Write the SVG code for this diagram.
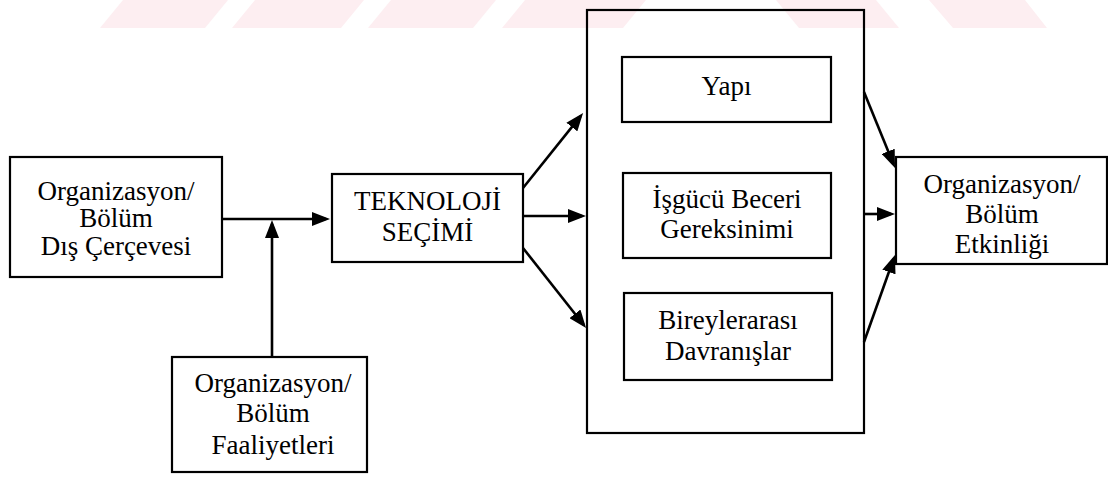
<svg xmlns="http://www.w3.org/2000/svg" width="1108" height="478" viewBox="0 0 1108 478">
  <style>
    .box { fill: #ffffff; stroke: #000000; stroke-width: 2.2; }
    .frame { fill: none; stroke: #000000; stroke-width: 2.2; }
    .lbl { font-family: "Liberation Serif", "Times New Roman", "DejaVu Serif", serif; font-size: 27px; fill: #000000; text-anchor: middle; }
    .wire { stroke: #000000; stroke-width: 2.6; fill: none; }
    .stripe { fill: #fdeef1; }
  </style>
  <defs>
    <marker id="arrow" markerUnits="userSpaceOnUse" markerWidth="18" markerHeight="14" refX="14" refY="7" orient="auto">
      <path d="M0,0 L18,7 L0,14 Z" fill="#000000"/>
    </marker>
  </defs>

  <rect width="1108" height="478" fill="#ffffff"/>

  <!-- faint diagonal band along the top edge -->
  <g id="band">
    <polygon class="stripe" points="100,28 205,28 228,0 123,0"/>
    <polygon class="stripe" points="232,28 341,28 364,0 255,0"/>
    <polygon class="stripe" points="368,28 473,28 496,0 391,0"/>
    <polygon class="stripe" points="502,28 623,28 646,0 525,0"/>
    <polygon class="stripe" points="776,0 876,0 899,28 799,28"/>
    <polygon class="stripe" points="929,0 1025,0 1047,28 953,28"/>
  </g>

  <!-- outer frame holding the three outcome boxes -->
  <g id="outcomes-frame">
    <rect class="frame" x="587" y="10" width="277" height="423"/>
  </g>

  <g id="dis-cerceve">
    <rect class="box" x="10" y="157" width="212" height="120"/>
    <text class="lbl" x="116" y="200">Organizasyon/</text>
    <text class="lbl" x="116" y="227">Bölüm</text>
    <text class="lbl" x="116" y="255">Dış Çerçevesi</text>
  </g>

  <g id="faaliyetler">
    <rect class="box" x="172" y="357" width="195" height="115"/>
    <text class="lbl" x="273" y="392">Organizasyon/</text>
    <text class="lbl" x="273" y="422">Bölüm</text>
    <text class="lbl" x="273" y="454">Faaliyetleri</text>
  </g>

  <g id="teknoloji">
    <rect class="box" x="332" y="174" width="191" height="88"/>
    <text class="lbl" x="427.5" y="210">TEKNOLOJİ</text>
    <text class="lbl" x="427.5" y="241">SEÇİMİ</text>
  </g>

  <g id="yapi">
    <rect class="box" x="622" y="57" width="209" height="65"/>
    <text class="lbl" x="726.5" y="95">Yapı</text>
  </g>

  <g id="isgucu">
    <rect class="box" x="623" y="173" width="208" height="85"/>
    <text class="lbl" x="727" y="208">İşgücü Beceri</text>
    <text class="lbl" x="727" y="238">Gereksinimi</text>
  </g>

  <g id="bireylerarasi">
    <rect class="box" x="624" y="293" width="208" height="87"/>
    <text class="lbl" x="728" y="329">Bireylerarası</text>
    <text class="lbl" x="728" y="360">Davranışlar</text>
  </g>

  <g id="etkinlik">
    <rect class="box" x="896" y="157" width="211" height="107"/>
    <text class="lbl" x="1002" y="193">Organizasyon/</text>
    <text class="lbl" x="1002" y="223">Bölüm</text>
    <text class="lbl" x="1002" y="253">Etkinliği</text>
  </g>

  <g id="connectors">
    <line class="wire" x1="222" y1="219" x2="326" y2="219" marker-end="url(#arrow)"/>
    <line class="wire" x1="272" y1="357" x2="272" y2="224" marker-end="url(#arrow)"/>
    <line class="wire" x1="523" y1="188" x2="580.6" y2="116.1" marker-end="url(#arrow)"/>
    <line class="wire" x1="523" y1="216" x2="582" y2="216" marker-end="url(#arrow)"/>
    <line class="wire" x1="523" y1="248" x2="583.6" y2="324.8" marker-end="url(#arrow)"/>
    <line class="wire" x1="864" y1="92" x2="893.5" y2="164.3" marker-end="url(#arrow)"/>
    <line class="wire" x1="864" y1="214" x2="891" y2="214" marker-end="url(#arrow)"/>
    <line class="wire" x1="864" y1="342" x2="893.6" y2="258.8" marker-end="url(#arrow)"/>
  </g>
</svg>
